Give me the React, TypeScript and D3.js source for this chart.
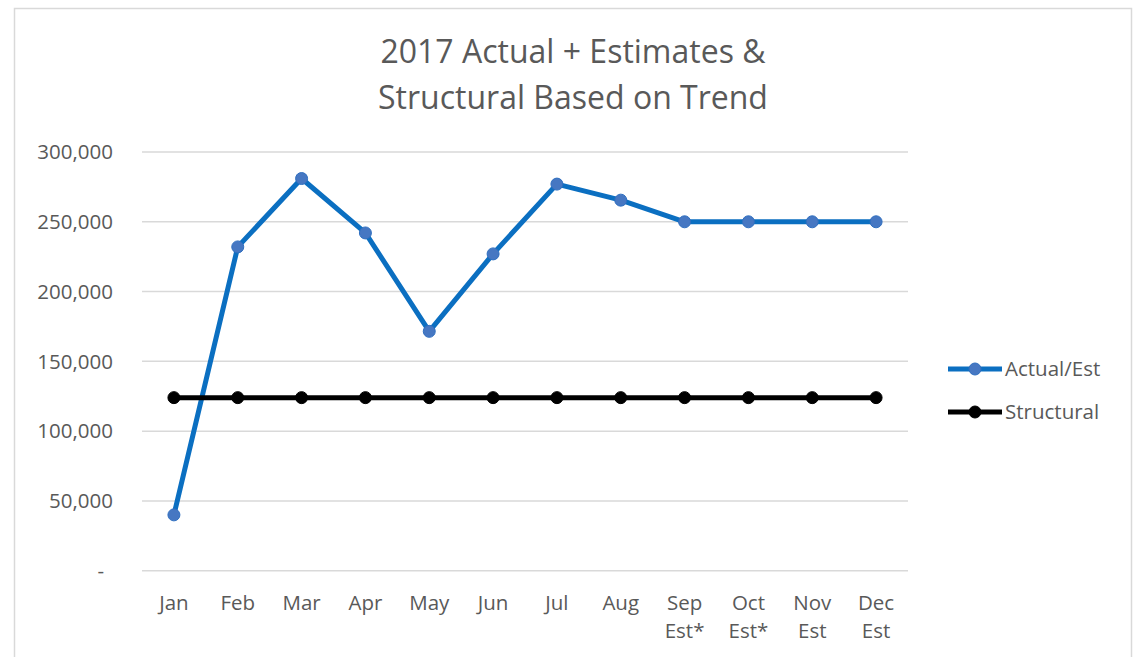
import React from "react";
import * as d3 from "d3";

const months = ["Jan", "Feb", "Mar", "Apr", "May", "Jun", "Jul", "Aug", "Sep\nEst*", "Oct\nEst*", "Nov\nEst", "Dec\nEst"];
const actualEst = [40000, 232000, 281000, 242000, 171500, 227000, 277000, 265500, 250000, 250000, 250000, 250000];
const structural = [124000, 124000, 124000, 124000, 124000, 124000, 124000, 124000, 124000, 124000, 124000, 124000];
const yTicks = [0, 50000, 100000, 150000, 200000, 250000, 300000];
const titleLines = ["2017 Actual + Estimates &", "Structural Based on Trend"];
const seriesNames = ["Actual/Est", "Structural"];

const W = 1134;
const H = 657;
const FONT = "'Open Sans', Lato, sans-serif";
const TEXT = "#595959";

export default function App() {
  const x = d3.scaleBand<number>().domain(d3.range(12)).range([142, 908]);
  const y = d3.scaleLinear().domain([0, 300000]).range([570.7, 152]);
  const cx = (i: number) => (x(i) as number) + x.bandwidth() / 2;
  const line = d3.line<number>().x((_, i) => cx(i)).y((d) => y(d));
  const fmt = (v: number) => (v === 0 ? "-" : d3.format(",")(v));

  const series = [
    { name: seriesNames[0], data: actualEst, stroke: "#0b6fc1", fill: "#4677c2", mstroke: "#2f6fc0" },
    { name: seriesNames[1], data: structural, stroke: "#000000", fill: "#000000", mstroke: "#000000" },
  ];

  return (
    <svg width={W} height={H} style={{ position: "fixed", left: 0, top: 0, background: "#fff" }} fontFamily={FONT}>
      <rect x={0} y={0} width={W} height={H} fill="#fff" />
      <rect x={14.5} y={8.5} width={1117} height={700} fill="#fff" stroke="#d9d9d9" strokeWidth={1.5} />
      {titleLines.map((t, i) => (
        <text key={t} x={573} y={63 + i * 46} textAnchor="middle" fontSize={32} fill={TEXT}>
          {t}
        </text>
      ))}
      {yTicks.map((t) => (
        <g key={t}>
          <line x1={142} x2={908} y1={y(t)} y2={y(t)} stroke="#d9d9d9" strokeWidth={1.5} />
          <text x={t === 0 ? 104 : 113} y={y(t)} dy="0.35em" textAnchor="end" fontSize={20.5} fill={TEXT}>
            {fmt(t)}
          </text>
        </g>
      ))}
      {months.map((m, i) => (
        <text key={m} x={cx(i)} y={610} textAnchor="middle" fontSize={20.5} fill={TEXT}>
          {m.split("\n").map((s, j) => (
            <tspan key={j} x={cx(i)} dy={j === 0 ? 0 : 28}>
              {s}
            </tspan>
          ))}
        </text>
      ))}
      {series.map((s) => (
        <g key={s.name}>
          <path d={line(s.data) || ""} fill="none" stroke={s.stroke} strokeWidth={5} strokeLinejoin="round" />
          {s.data.map((v, i) => (
            <circle key={i} cx={cx(i)} cy={y(v)} r={6} fill={s.fill} stroke={s.mstroke} strokeWidth={1} />
          ))}
        </g>
      ))}
      {series.map((s, k) => (
        <g key={"lg" + s.name} transform={`translate(0,${369 + k * 43})`}>
          <line x1={948} x2={1002} y1={0} y2={0} stroke={s.stroke} strokeWidth={5} />
          <circle cx={975} cy={0} r={6} fill={s.fill} stroke={s.mstroke} strokeWidth={1} />
          <text x={1005} y={0} dy="0.35em" fontSize={20.5} fill={TEXT}>
            {s.name}
          </text>
        </g>
      ))}
    </svg>
  );
}
